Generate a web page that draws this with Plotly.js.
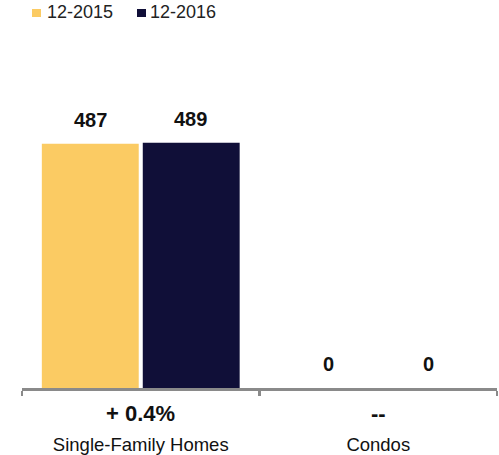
<!DOCTYPE html>
<html>
<head>
<meta charset="utf-8">
<script src="https://cdn.plot.ly/plotly-3.0.1.min.js"></script>
<style>html,body{margin:0;padding:0;background:#fff;}#chart{width:499px;height:455px;}</style>
</head>
<body>
<div id="chart"></div>
<script>
const categories = ["Single-Family Homes", "Condos"];
const seriesNames = ["12-2015", "12-2016"];
const values2015 = [487, 0];
const values2016 = [489, 0];
const changeLabels = ["+ 0.4%", "--"];
const colors = ["#FBCB63", "#100F38"];

const FONT = "Liberation Sans, Arial, Helvetica, sans-serif";
const seriesValues = [values2015, values2016];

const traces = seriesNames.map((name, i) => ({
  type: "bar",
  name: name,
  x: categories,
  y: seriesValues[i],
  marker: {color: colors[i]},
  hoverinfo: "skip",
  showlegend: false
}));

const annotations = [];
// value labels above bars
seriesValues.forEach((vals, s) => {
  vals.forEach((v, c) => {
    annotations.push({
      x: categories[c], y: v, xref: "x", yref: "y",
      text: "<b>" + v + "</b>", showarrow: false,
      xanchor: "center", yanchor: "bottom",
      xshift: s === 0 ? -50 : 50, yshift: 11,
      font: {family: FONT, size: 20, color: "#111"}
    });
  });
});
// change labels under axis
changeLabels.forEach((t, c) => {
  annotations.push({
    x: categories[c], y: 0, xref: "x", yref: "paper",
    text: "<b>" + t + "</b>", showarrow: false,
    xanchor: "center", yanchor: "middle", yshift: -25,
    font: {family: FONT, size: 22, color: "#111"}
  });
});
// manual legend
const squareLeft = [10, 115];
const textShift = [23, 126];
const shapes = [];
seriesNames.forEach((n, i) => {
  shapes.push({
    type: "rect", xref: "paper", yref: "paper",
    xsizemode: "pixel", ysizemode: "pixel", xanchor: 0, yanchor: 1,
    x0: squareLeft[i], x1: squareLeft[i] + 9, y0: 43, y1: 51,
    fillcolor: colors[i], line: {width: 0}
  });
  annotations.push({
    x: 0, y: 1, xref: "paper", yref: "paper",
    xanchor: "left", yanchor: "middle",
    xshift: textShift[i], yshift: 48,
    text: n, showarrow: false,
    font: {family: FONT, size: 18, color: "#222"}
  });
});

const layout = {
  width: 499, height: 455,
  margin: {l: 22, r: 2, t: 60, b: 67},
  paper_bgcolor: "#fff", plot_bgcolor: "#fff",
  barmode: "group", bargap: 0.15, bargroupgap: 0.04,
  showlegend: false,
  font: {family: FONT, color: "#111"},
  xaxis: {
    type: "category", range: [-0.5, 1.5],
    showline: true, linecolor: "#8a8a8a", linewidth: 2.5,
    ticks: "outside", tickson: "boundaries", ticklen: 5, tickwidth: 2.5, tickcolor: "#8a8a8a",
    showgrid: false, zeroline: false,
    tickfont: {family: FONT, size: 18.5, color: "#111"},
    ticklabelstandoff: 38, automargin: false
  },
  yaxis: {
    range: [0, 654], visible: false, showgrid: false, zeroline: false, fixedrange: true
  },
  annotations: annotations,
  shapes: shapes
};

Plotly.newPlot("chart", traces, layout, {displayModeBar: false, staticPlot: true});
</script>
</body>
</html>
